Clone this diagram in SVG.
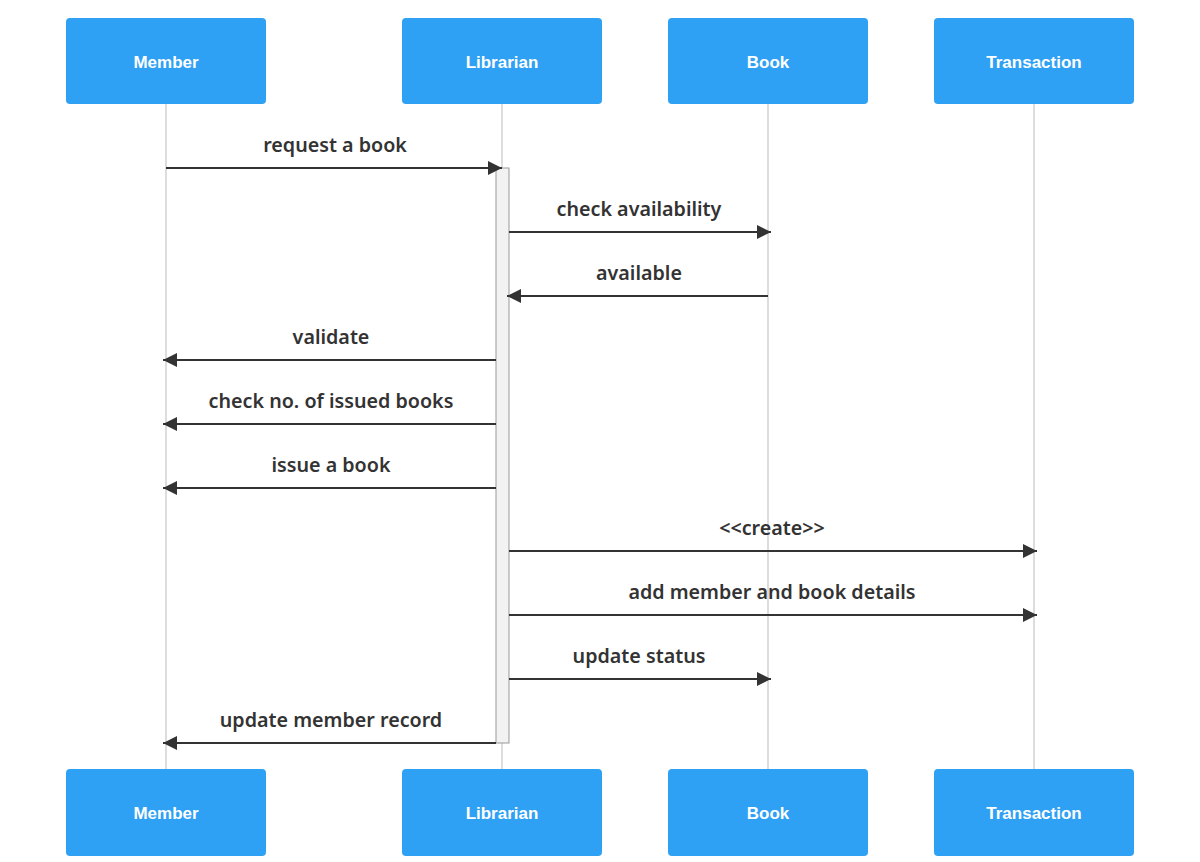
<svg xmlns="http://www.w3.org/2000/svg" width="1200" height="862" viewBox="0 0 1200 862">
<style>
.box{fill:#2fa1f5;stroke:none}
.pt{font-family:"Liberation Sans",Arial,sans-serif;font-weight:bold;font-size:17px;fill:#fff;text-anchor:middle;dominant-baseline:central}
.life{stroke:#bbb;stroke-width:1}
.msg{stroke:#333;stroke-width:2;fill:none}
.ml{font-family:"Noto Sans","DejaVu Sans",sans-serif;font-weight:600;font-size:19.7px;fill:#333;text-anchor:middle}
</style>
<defs>
<marker id="ah" viewBox="0 0 14 14" refX="14" refY="7" markerWidth="14" markerHeight="14" markerUnits="userSpaceOnUse" orient="auto">
<path d="M0,0 L14,7 L0,14 z" fill="#333"/>
</marker>
</defs>
<rect width="1200" height="862" fill="#fff"/>
<g id="lifelines">
<line class="life" x1="166" y1="104" x2="166" y2="769"/>
<line class="life" x1="502" y1="104" x2="502" y2="769"/>
<line class="life" x1="768" y1="104" x2="768" y2="769"/>
<line class="life" x1="1034" y1="104" x2="1034" y2="769"/>
</g>
<g id="activation">
<rect x="496" y="168" width="13" height="575" fill="#f2f2f2" stroke="#999" stroke-width="1"/>
</g>
<g id="member-top"><rect class="box" x="66" y="18" width="200" height="86" rx="4"/><text class="pt" x="166" y="62">Member</text></g>
<g id="librarian-top"><rect class="box" x="402" y="18" width="200" height="86" rx="4"/><text class="pt" x="502" y="62">Librarian</text></g>
<g id="book-top"><rect class="box" x="668" y="18" width="200" height="86" rx="4"/><text class="pt" x="768" y="62">Book</text></g>
<g id="transaction-top"><rect class="box" x="934" y="18" width="200" height="86" rx="4"/><text class="pt" x="1034" y="62">Transaction</text></g>
<g id="member-bottom"><rect class="box" x="66" y="769" width="200" height="87" rx="4"/><text class="pt" x="166" y="813">Member</text></g>
<g id="librarian-bottom"><rect class="box" x="402" y="769" width="200" height="87" rx="4"/><text class="pt" x="502" y="813">Librarian</text></g>
<g id="book-bottom"><rect class="box" x="668" y="769" width="200" height="87" rx="4"/><text class="pt" x="768" y="813">Book</text></g>
<g id="transaction-bottom"><rect class="box" x="934" y="769" width="200" height="87" rx="4"/><text class="pt" x="1034" y="813">Transaction</text></g>
<g id="connectors">
<line class="msg" x1="166" y1="168" x2="502" y2="168" marker-end="url(#ah)"/>
<text class="ml" x="335" y="152">request a book</text>
<line class="msg" x1="509" y1="232" x2="771" y2="232" marker-end="url(#ah)"/>
<text class="ml" x="639" y="216">check availability</text>
<line class="msg" x1="768" y1="296" x2="507" y2="296" marker-end="url(#ah)"/>
<text class="ml" x="639" y="280">available</text>
<line class="msg" x1="496" y1="360" x2="163" y2="360" marker-end="url(#ah)"/>
<text class="ml" x="331" y="344">validate</text>
<line class="msg" x1="496" y1="424" x2="163" y2="424" marker-end="url(#ah)"/>
<text class="ml" x="331" y="408">check no. of issued books</text>
<line class="msg" x1="496" y1="488" x2="163" y2="488" marker-end="url(#ah)"/>
<text class="ml" x="331" y="472">issue a book</text>
<line class="msg" x1="509" y1="551" x2="1037" y2="551" marker-end="url(#ah)"/>
<text class="ml" x="772" y="535">&lt;&lt;create&gt;&gt;</text>
<line class="msg" x1="509" y1="615" x2="1037" y2="615" marker-end="url(#ah)"/>
<text class="ml" x="772" y="599">add member and book details</text>
<line class="msg" x1="509" y1="679" x2="771" y2="679" marker-end="url(#ah)"/>
<text class="ml" x="639" y="663">update status</text>
<line class="msg" x1="496" y1="743" x2="163" y2="743" marker-end="url(#ah)"/>
<text class="ml" x="331" y="727">update member record</text>
</g>
</svg>
